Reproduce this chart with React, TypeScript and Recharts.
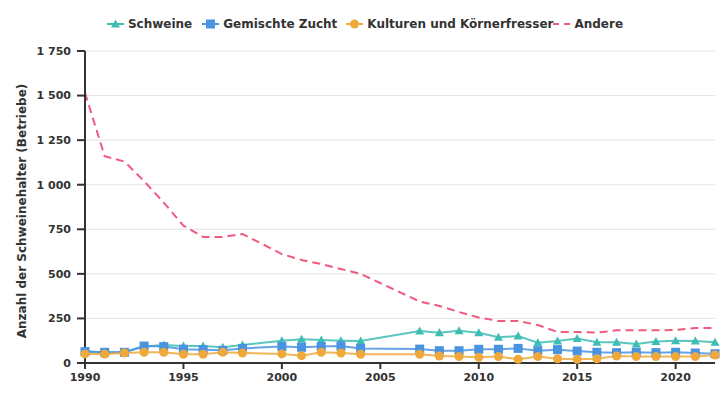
import React from "react";
import {
  LineChart,
  Line,
  XAxis,
  YAxis,
  CartesianGrid,
  Legend,
} from "recharts";

const years = [
  1990, 1991, 1992, 1993, 1994, 1995, 1996, 1997, 1998, 2000, 2001, 2002, 2003, 2004,
  2007, 2008, 2009, 2010, 2011, 2012, 2013, 2014, 2015, 2016, 2017, 2018, 2019, 2020, 2021, 2022,
];
const schweine = [
  65, 60, 60, 92, 101, 95, 95, 88, 101, 125, 133, 129, 125, 123,
  179, 170, 181, 170, 144, 151, 114, 123, 138, 116, 116, 106, 120, 125, 123, 116,
];
const gemischte = [
  64, 60, 60, 95, 92, 77, 75, 71, 82, 92, 88, 92, 95, 82,
  78, 69, 69, 77, 77, 82, 69, 75, 67, 60, 58, 60, 58, 60, 56, 52,
];
const kulturen = [
  51, 50, 56, 60, 60, 49, 49, 60, 56, 51, 41, 60, 56, 49,
  49, 39, 36, 32, 36, 21, 36, 24, 21, 24, 39, 36, 36, 36, 36, 45,
];
const andere = [
  1515, 1160, 1130, 1020, 900, 770, 707, 707, 724, 611, 578, 555, 527, 500,
  345, 320, 286, 255, 236, 236, 213, 174, 174, 170, 183, 183, 183, 185, 196, 196,
];

const xTicks = [1990, 1995, 2000, 2005, 2010, 2015, 2020];
const yTicks = [0, 250, 500, 750, 1000, 1250, 1500, 1750];

const data = years.map((year, i) => ({
  year,
  schweine: schweine[i],
  gemischte: gemischte[i],
  kulturen: kulturen[i],
  andere: andere[i],
}));

const TEAL = "#3dbdb3";
const BLUE = "#4a93e0";
const ORANGE = "#efa93a";
const PINK = "#f05a7e";
const DARK = "#333333";
const FONT = "'DejaVu Sans', sans-serif";

const series = [
  { key: "schweine", name: "Schweine", color: TEAL, shape: "triangle" },
  { key: "gemischte", name: "Gemischte Zucht", color: BLUE, shape: "square" },
  { key: "kulturen", name: "Kulturen und Körnerfresser", color: ORANGE, shape: "circle" },
  { key: "andere", name: "Andere", color: PINK, shape: "dash" },
];

// spacing after each legend entry (the original legend packs the last two tightly)
const legendGaps = [10, 9, 0, 0];

const marker = (shape: string, cx: number, cy: number, color: string, key?: any) => {
  if (shape === "triangle") {
    return (
      <path
        key={key}
        d={`M${cx},${cy - 4.5} L${cx + 4.5},${cy + 3.5} L${cx - 4.5},${cy + 3.5} Z`}
        fill={color}
      />
    );
  }
  if (shape === "square") {
    return <rect key={key} x={cx - 4.5} y={cy - 4.5} width={9} height={9} fill={color} />;
  }
  if (shape === "circle") {
    return <circle key={key} cx={cx} cy={cy} r={4.5} fill={color} />;
  }
  return <g key={key} />;
};

const makeDot = (shape: string, color: string) => (props: any) => {
  const { cx, cy, index } = props;
  if (cx == null || cy == null) return <g key={index} />;
  return marker(shape, cx, cy, color, index);
};

const renderLegend = () => (
  <div
    style={{
      display: "flex",
      justifyContent: "center",
      alignItems: "center",
      height: 18,
      fontFamily: FONT,
      fontSize: 12,
      fontWeight: "bold",
      color: DARK,
    }}
  >
    {series.map((s, i) => (
      <div key={s.key} style={{ display: "flex", alignItems: "center", marginRight: legendGaps[i] }}>
        <svg width={17} height={10} style={{ marginRight: 4 }}>
          <line
            x1={0}
            y1={5}
            x2={17}
            y2={5}
            stroke={s.color}
            strokeWidth={2}
            strokeDasharray={s.shape === "dash" ? "6 5" : undefined}
          />
          {marker(s.shape, 8.5, 5, s.color)}
        </svg>
        <span>{s.name}</span>
      </div>
    ))}
  </div>
);

const formatThousands = (v: number) => String(v).replace(/\B(?=(\d{3})+(?!\d))/g, " ");

const YLabel = (props: any) => {
  const { viewBox } = props;
  const cy = viewBox.y + viewBox.height / 2;
  return (
    <text
      transform={`translate(22, ${cy + 4}) rotate(-90)`}
      textAnchor="middle"
      dominantBaseline="central"
      fontFamily={FONT}
      fontSize={12}
      fontWeight="bold"
      fill={DARK}
    >
      Anzahl der Schweinehalter (Betriebe)
    </text>
  );
};

export default function App() {
  return (
    <div style={{ position: "absolute", top: 0, left: 0, width: 725, height: 400, background: "#fff" }}>
      <LineChart
        width={725}
        height={400}
        data={data}
        margin={{ top: 15, right: 10, bottom: 7, left: 15 }}
      >
        <CartesianGrid vertical={false} stroke="#e4e4e4" />
        <XAxis
          dataKey="year"
          type="number"
          domain={[1990, 2022]}
          ticks={xTicks}
          height={30}
          tickSize={6}
          tickMargin={4}
          axisLine={{ stroke: DARK, strokeWidth: 2 }}
          tickLine={{ stroke: DARK, strokeWidth: 2 }}
          tick={{ fill: DARK, fontSize: 11, fontWeight: "bold", fontFamily: FONT }}
        />
        <YAxis
          width={70}
          domain={[0, 1750]}
          ticks={yTicks}
          tickSize={8}
          tickMargin={6}
          tickFormatter={formatThousands}
          axisLine={{ stroke: DARK, strokeWidth: 2 }}
          tickLine={{ stroke: DARK, strokeWidth: 2 }}
          tick={{ fill: DARK, fontSize: 11, fontWeight: "bold", fontFamily: FONT }}
          label={{ position: "center", content: <YLabel /> }}
        />
        <Legend verticalAlign="top" height={36} content={renderLegend} />
        {series.map((s) => (
          <Line
            key={s.key}
            type="linear"
            dataKey={s.key}
            name={s.name}
            stroke={s.color}
            strokeWidth={2}
            strokeOpacity={s.shape === "dash" ? 1 : 0.85}
            strokeDasharray={s.shape === "dash" ? "8 5" : undefined}
            dot={s.shape === "dash" ? false : makeDot(s.shape, s.color)}
            activeDot={false}
            isAnimationActive={false}
          />
        ))}
      </LineChart>
    </div>
  );
}
